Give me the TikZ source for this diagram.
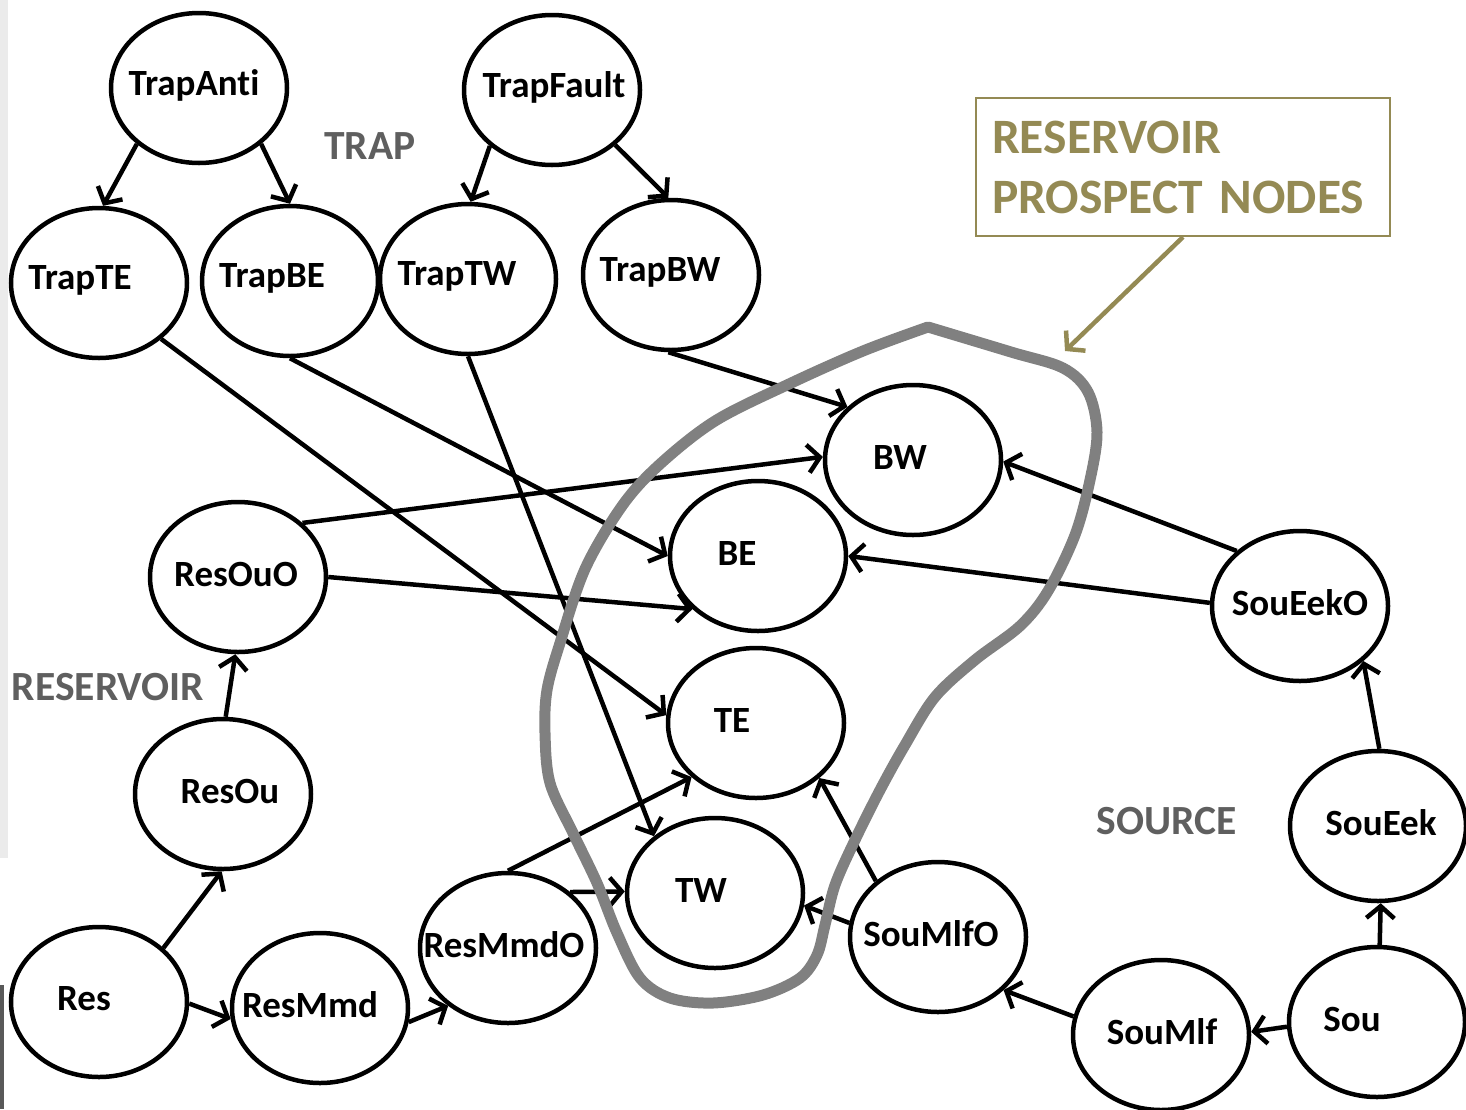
\documentclass[tikz,border=0pt]{standalone}
\usepackage{fontspec}
\setmainfont{Carlito}[Ligatures=NoCommon]
\usetikzlibrary{shapes.geometric,arrows.meta}
\definecolor{olivetext}{HTML}{948A54}
\definecolor{groupgray}{HTML}{5F5F5F}
\definecolor{blobgray}{HTML}{808080}

\begin{document}
\begin{tikzpicture}[x=1pt, y=-1pt,
    var/.style={ellipse, draw, line width=4.5pt, minimum width=176pt, minimum height=150pt, inner sep=0pt},
    vartext/.style={inner sep=0pt, yshift=3pt, font=\fontsize{37}{44}\selectfont\bfseries},
    link/.style={line width=4.5pt, -{Straight Barb[length=12pt,width=28pt]}},
    group/.style={text=groupgray, font=\fontsize{41.5}{50}\selectfont\bfseries}]
    \useasboundingbox (0,0) rectangle (1466,1109);

    % Page edges
    \fill[black!8] (0,0) rectangle (8,858);
    \fill[black!65] (0,985) rectangle (4,1109);

    % Variables: name / x / y / shift of the text
    \foreach \name/\x/\y/\dx in {
        TrapAnti/199/88/-5, TrapFault/552/90/2, TrapTE/99/283/-19, TrapBE/290/281/-18,
        TrapTW/468/279/-11, TrapBW/671/275/-11,
        BW/913/460/-13, BE/758/556/-21, TE/756/723/-24, TW/715/893/-14,
        ResOuO/238/577/-2, ResOu/223/794/7, Res/99/1002/-15, ResMmd/320/1008/-10,
        ResMmdO/508/948/-4,
        SouEekO/1300/606/0, SouEek/1378/826/3, Sou/1377/1022/-25, SouMlf/1161/1035/1,
        SouMlfO/938/937/-7}
        \node[var, label={[vartext, xshift=\dx pt]center:\name}] (\name) at (\x,\y) {};

    % Group labels
    \node[group] (trap) at (370,146) {TRAP};
    \node[group] (reservoir) at (108,687) {RESERVOIR};
    \node[group] (source) at (1167,821) {SOURCE};

    % Links
    \foreach \a/\b in {TrapAnti.222/TrapTE.87, TrapAnti.318/TrapBE.90,
        TrapFault.222/TrapTW.88, TrapFault.319/TrapBW.92,
        TrapTE.318/TE.175, TrapBE.270/BE.180, TrapTW.270/TW.137, TrapBW.268/BW.141,
        ResOuO.40/BW.178, ResOuO.0/BE.219, ResOu.88/ResOuO.268,
        Res.40/ResOu.269, Res.-1/ResMmd.187, ResMmd.-9/ResMmdO.224,
        ResMmdO.90/TE.220, ResMmdO.42/TW.179,
        SouMlfO.171/TW.-8, SouMlfO.138/TE.-41, SouMlf.168/SouMlfO.-39,
        Sou.183/SouMlf.2, Sou.88/SouEek.-88, SouEek.89/SouEekO.-41,
        SouEekO.139/BW.-1, SouEekO.178/BE.0}
        \draw[link] (\a) -- (\b);

    % Outline round the prospect nodes
    \draw[blobgray, line width=11pt, line join=round, line cap=round]
        plot[smooth, tension=0.55] coordinates {(928,327) (1011,352) (1063,368) (1088,392)
        (1097,432) (1090,480) (1075,535) (1048,591) (1020,626) (975,660) (935,697)
        (905,745) (880,790) (855,840) (835,885) (825,925) (817,955) (800,978)
        (763,995) (713,1003) (670,998) (640,978) (617,933) (597,883) (573,833)
        (550,783) (545,733) (547,690) (560,643) (585,569) (622,506) (659,465)
        (715,421) (789,384) (863,351) (928,327)};

    % Callout
    \node[draw=olivetext, line width=2pt, text=olivetext, text width=382pt, inner xsep=16pt,
        minimum height=138pt, align=left, font=\fontsize{49.5}{60}\selectfont\bfseries]
        (callout) at (1183,167) {RESERVOIR\\PROSPECT NODES};
    \coordinate (blobtop) at (1065,351);
    \draw[olivetext, line width=4.5pt, -{Straight Barb[length=12pt,width=28pt]}] (callout.south) -- (blobtop);
\end{tikzpicture}
\end{document}
